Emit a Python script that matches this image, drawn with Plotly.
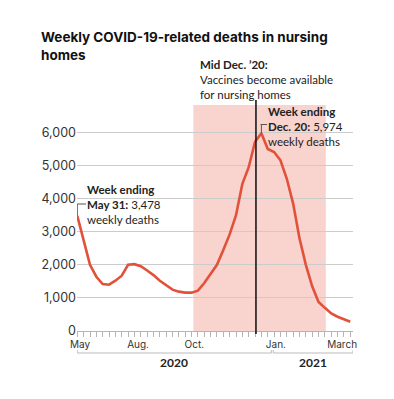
import plotly.graph_objects as go
import pandas as pd

# ---------------- data ----------------
week_start = "2020-05-31"
deaths = [3478, 2750, 2000, 1640, 1420, 1400, 1520, 1670, 2000, 2020,
          1960, 1830, 1690, 1520, 1380, 1250, 1190, 1160, 1160, 1220,
          1450, 1720, 2000, 2450, 2920, 3500, 4450, 4950, 5720, 5974,
          5500, 5410, 5160, 4600, 3850, 2800, 2000, 1350, 880, 700,
          530, 430, 350, 280]
weeks = pd.date_range(week_start, periods=len(deaths), freq="7D")

y_ticks = [0, 1000, 2000, 3000, 4000, 5000, 6000]
y_ticktext = ["0", "1,000", "2,000", "3,000", "4,000", "5,000", "6,000"]
month_labels = ["May", "Aug.", "Oct.", "Jan.", "March"]
month_label_dates = ["2020-06-03", "2020-08-06", "2020-10-07", "2021-01-05", "2021-03-19"]
year_labels = ["2020", "2021"]
year_spans = [("2020-05-31", "2020-12-31"), ("2021-01-02", "2021-03-31")]
shade_span = ("2020-10-06", "2021-03-01")
vaccine_date = "2020-12-14"

# ---------------- layout helpers ----------------
W, H = 394, 399
L, R, T, B = 77, 353, 105, 331
YMAX = 6830


def px(xp):
    return (xp - L) / (R - L)


def py(yp):
    return (B - yp) / (B - T)


FONT = "Lato"
TICKFONT = "Inter"
RED = "#e2513a"
TXT = "#222222"

fig = go.Figure()
fig.add_trace(go.Scatter(x=weeks, y=deaths, mode="lines",
                         line=dict(color=RED, width=2.6, shape="linear"),
                         hoverinfo="skip"))

shapes = []
# shaded period
shapes.append(dict(type="rect", xref="x", yref="paper", x0=shade_span[0], x1=shade_span[1],
                   y0=0, y1=1, fillcolor="#f9d3cd", line=dict(width=0), layer="below"))
# vaccine line
shapes.append(dict(type="line", xref="x", yref="paper", x0=vaccine_date, x1=vaccine_date,
                   y0=py(334), y1=py(100), line=dict(color="#1a1a1a", width=1.6), layer="above"))
# year brackets
for (a, b) in year_spans:
    shapes.append(dict(type="line", xref="x", yref="paper", x0=a, x1=b, y0=py(353), y1=py(353),
                       line=dict(color="#bbbbbb", width=1)))
    for d in (a, b):
        shapes.append(dict(type="line", xref="x", yref="paper", x0=d, x1=d, y0=py(353), y1=py(350),
                           line=dict(color="#bbbbbb", width=1)))

# leader lines for callouts
first_x, first_y = weeks[0], deaths[0]
peak_i = deaths.index(max(deaths))
peak_x, peak_y = weeks[peak_i], deaths[peak_i]
shapes.append(dict(type="line", xref="x", yref="y", x0=first_x, x1=first_x,
                   y0=first_y, y1=(B - 204) / (B - T) * YMAX,
                   line=dict(color="#555555", width=1)))
shapes.append(dict(type="line", xref="paper", yref="paper", x0=px(77.3), x1=px(86),
                   y0=py(204), y1=py(204), line=dict(color="#555555", width=1)))
shapes.append(dict(type="line", xref="x", yref="y", x0=peak_x, x1=peak_x,
                   y0=peak_y, y1=(B - 124.5) / (B - T) * YMAX,
                   line=dict(color="#555555", width=1)))
shapes.append(dict(type="line", xref="paper", yref="paper", x0=px(260.5), x1=px(267),
                   y0=py(124.5), y1=py(124.5), line=dict(color="#555555", width=1)))

ann = []


def text(x, y, s, size=12, color=TXT, anchor="left", xref="paper", family=FONT):
    ann.append(dict(x=x, y=y, xref=xref, yref="paper", text=s, showarrow=False,
                    xanchor=anchor, yanchor="middle", align=anchor, borderpad=0,
                    font=dict(family=family, size=size, color=color)))


# title
text(px(39.5), py(46), "<b>Weekly COVID-19-related deaths in nursing<br>homes</b>",
     size=13.5, color="#111111", family="Inter")
# vaccine note
text(px(199), py(79), "<b>Mid Dec. \u201920:</b><br>Vaccines become available<br>for nursing homes",
     size=11.5)
# first callout
text(px(86), py(204.5), f"<b>Week ending<br>May 31:</b> {first_y:,}<br>weekly deaths", size=11.5)
# peak callout
text(px(266.5), py(126), f"<b>Week ending<br>Dec. 20:</b> {peak_y:,}<br>weekly deaths", size=11.5)
# year labels
for lab, (a, b) in zip(year_labels, year_spans):
    mid = pd.Timestamp(a) + (pd.Timestamp(b) - pd.Timestamp(a)) / 2
    text(mid, py(362.5), f"<b>{lab}</b>", size=12, anchor="center", xref="x")

fig.update_layout(
    width=W, height=H, autosize=False,
    margin=dict(l=L, r=W - R, t=T, b=H - B, pad=0),
    paper_bgcolor="white", plot_bgcolor="rgba(0,0,0,0)",
    showlegend=False, shapes=shapes, annotations=ann,
    font=dict(family=FONT, color=TXT),
)
fig.update_xaxes(
    type="date", range=["2020-05-30 16:00", "2021-03-31"],
    tickmode="array", tickvals=month_label_dates, ticktext=month_labels,
    ticks="", ticklabelstandoff=4,
    tickfont=dict(family=TICKFONT, size=10, color="#333333"),
    showgrid=False, zeroline=False, showline=True, linecolor="#b5b5b5", linewidth=1,
    minor=dict(ticks="outside", ticklen=5, tickcolor="#b5b5b5", tickwidth=1,
               tick0=week_start, dtick=7 * 86400000, showgrid=False),
    fixedrange=True,
)
fig.update_yaxes(
    range=[0, YMAX], tickmode="array", tickvals=y_ticks, ticktext=y_ticktext,
    ticks="", tickfont=dict(family=TICKFONT, size=12.5, color="#333333"),
    showgrid=True, gridcolor="#cccccc", gridwidth=1, zeroline=False, showline=False,
    fixedrange=True,
)

fig.write_html("out.html", config={"displayModeBar": False},
               post_script="document.body.style.margin='0';document.body.style.padding='0';")
